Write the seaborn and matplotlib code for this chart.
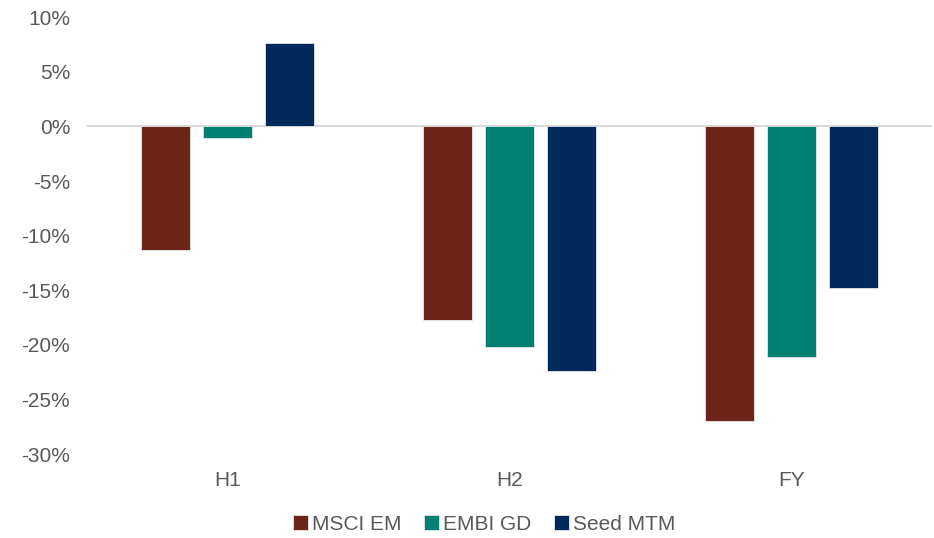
import matplotlib
matplotlib.use("Agg")
import matplotlib.pyplot as plt
import pandas as pd
import seaborn as sns

periods = ["H1", "H2", "FY"]
series = ["MSCI EM", "EMBI GD", "Seed MTM"]
msci_em = [-11.3, -17.7, -27.0]
embi_gd = [-1.1, -20.2, -21.1]
seed_mtm = [7.6, -22.4, -14.8]
colors = ["#6E2519", "#007F73", "#002A5C"]

rows = []
for name, vals in zip(series, [msci_em, embi_gd, seed_mtm]):
    for p, v in zip(periods, vals):
        rows.append({"period": p, "series": name, "value": v})
df = pd.DataFrame(rows)

sns.set_style("white")
plt.rcParams["font.family"] = ["Liberation Sans", "DejaVu Sans"]

fig = plt.figure(figsize=(9.34, 5.38), dpi=100)
ax = fig.add_axes([0.093, 0.156, 0.905, 0.812])
sns.barplot(data=df, x="period", y="value", hue="series", order=periods,
            hue_order=series, palette=colors, saturation=1, width=0.66,
            gap=0.21, edgecolor="#e6e6e6", linewidth=0.6, ax=ax)

ax.set_ylim(-30, 10)
ax.set_yticks(range(-30, 11, 5))
ax.set_yticklabels([f"{t}%" for t in range(-30, 11, 5)])
ax.set_xlim(-0.5, 2.5)
ax.axhline(0, color="#d9d9d9", linewidth=1.5, zorder=0)
for s in ax.spines.values():
    s.set_visible(False)
ax.tick_params(axis="both", length=0, labelsize=15, colors="#595959")
ax.tick_params(axis="y", pad=12)
ax.tick_params(axis="x", pad=12)
ax.set_xlabel("")
ax.set_ylabel("")

handles, labels = ax.get_legend_handles_labels()
ax.legend(handles, labels, loc="lower center", bbox_to_anchor=(0.47, -0.225),
          ncol=3, frameon=False, fontsize=15, handlelength=0.7,
          handleheight=0.7, handletextpad=0.2, columnspacing=1.1,
          labelcolor="#595959", bbox_transform=ax.transAxes)

fig.savefig("out.png", dpi=100)
